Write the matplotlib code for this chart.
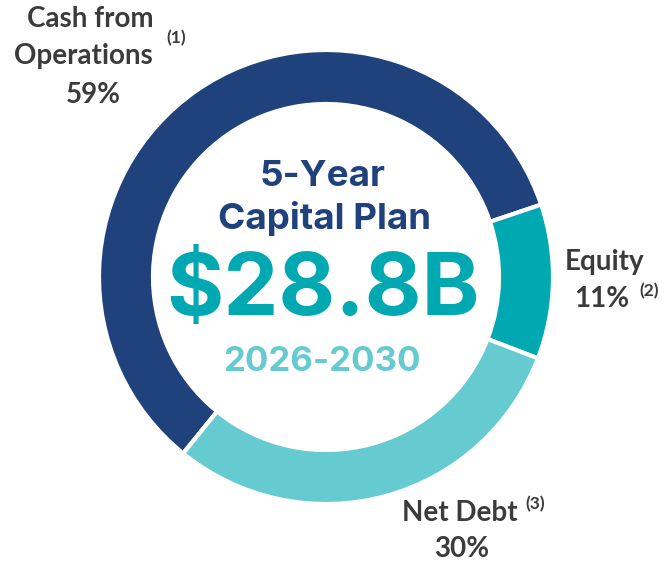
import matplotlib.pyplot as plt

# capital plan funding sources
labels = ["Cash from\nOperations", "Equity", "Net Debt"]
shares = [59, 11, 30]
notes = ["(1)", "(2)", "(3)"]
colors = ["#1F417C", "#00A9B1", "#66CBD0"]

title_lines = ["5-Year", "Capital Plan"]
total = "$28.8B"
period = "2026-2030"

W, H = 667, 564
fig = plt.figure(figsize=(W / 100, H / 100), dpi=100)
ax = fig.add_axes([0, 0, 1, 1])

# donut centred in pixel coords (y flipped)
cx, cy, r = 326, H - 277, 227
ax.pie(shares, colors=colors, startangle=231, counterclock=False,
       center=(cx, cy), radius=r, frame=True,
       wedgeprops=dict(width=54, edgecolor="white", linewidth=3))
ax.set_xlim(0, W)
ax.set_ylim(0, H)
ax.set_aspect("equal")
ax.axis("off")

def py(y):
    return H - y

lab = dict(fontfamily="Lato", fontweight="bold", color="#3B3B3B", fontsize=20)
sup = dict(fontfamily="Lato", fontweight="bold", color="#3B3B3B", fontsize=12.5)

# Cash from operations
first, second = labels[0].split("\n")
ax.text(90, py(19), first, ha="center", va="center", **lab)
ax.text(83, py(56), second, ha="center", va="center", **lab)
ax.text(176, py(38), notes[0], ha="center", va="center", **sup)
ax.text(93, py(95), f"{shares[0]}%", ha="center", va="center", **lab)

# Equity
ax.text(605, py(262), labels[1], ha="center", va="center", **lab)
ax.text(602, py(299), f"{shares[1]}%", ha="center", va="center", **lab)
ax.text(649, py(291), notes[1], ha="center", va="center", **sup)

# Net debt
ax.text(460, py(513), labels[2], ha="center", va="center", **lab)
ax.text(535, py(504), notes[2], ha="center", va="center", **sup)
ax.text(462, py(549), f"{shares[2]}%", ha="center", va="center", **lab)

# centre text
ctr = dict(fontfamily="Inter", fontweight="bold", ha="center", va="center")
ax.text(323, py(177), title_lines[0], color="#1F417C", fontsize=26.5, **ctr)
ax.text(324, py(218), title_lines[1], color="#1F417C", fontsize=26.5, **ctr)
ax.text(323, py(293), total, color="#00A9B1", fontsize=63, **ctr)
ax.text(322, py(362), period, color="#66CBD0", fontsize=25, **ctr)

fig.savefig("out.png", dpi=100)
